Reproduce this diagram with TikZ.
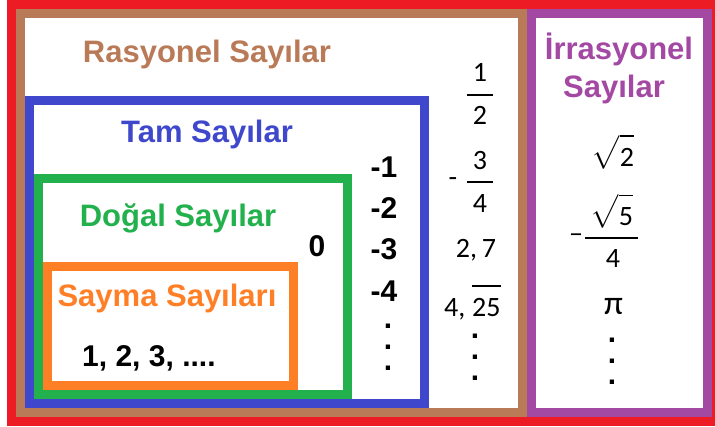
\documentclass[tikz,border=0pt]{standalone}
\usepackage{fontspec}
\usepackage{unicode-math}
\setmainfont{Liberation Sans}
\newfontfamily\numfont{Carlito}
\definecolor{cred}{HTML}{ED1C24}
\definecolor{cbrown}{HTML}{B97A57}
\definecolor{cblue}{HTML}{3F48CC}
\definecolor{cgreen}{HTML}{22B14C}
\definecolor{corange}{HTML}{FF7F27}
\definecolor{cpurple}{HTML}{A349A4}
\begin{document}
\begin{tikzpicture}[x=1pt,y=-1pt,
  frame/.style={line width=9pt},
  head/.style={font=\fontsize{31}{36}\selectfont\bfseries, inner sep=0pt, anchor=base},
  bnum/.style={font=\fontsize{30}{36}\selectfont\bfseries, inner sep=0pt, anchor=base},
  fnum/.style={font=\numfont\fontsize{28}{32}\selectfont, inner sep=0pt, anchor=base},
  dotcol/.style={font=\fontsize{30}{21}\selectfont\bfseries, inner sep=0pt, anchor=center, align=center},
  fbar/.style={line width=1.8pt}]
\useasboundingbox (0,0) rectangle (715,427);
\clip (0,0) rectangle (715,427);
% frames
\draw[frame, cred] (11.5,4.5) rectangle (716.5,421.5);
\draw[frame, cbrown] (20.5,13.5) rectangle (522.5,412.5);
\draw[frame, cpurple] (531.5,13.5) rectangle (707.5,412.5);
\draw[frame, cblue] (29.5,100.5) rectangle (424.5,403.5);
\draw[frame, cgreen] (38.5,178.5) rectangle (347.5,394.5);
\draw[frame, corange] (47.5,266.5) rectangle (293.5,385.5);
% headings
\node[head, text=cbrown] (rat) at (207,63) {Rasyonel Sayılar};
\node[head, text=cblue] (tam) at (207,143) {Tam Sayılar};
\node[head, text=cgreen] (dog) at (178,227) {Doğal Sayılar};
\node[head, text=corange] (say) at (167,307) {Sayma Sayıları};
\node[head, text=cpurple] (irr1) at (619,60) {İrrasyonel};
\node[head, text=cpurple] (irr2) at (614,98) {Sayılar};
% natural / integers
\node[bnum] (zero) at (317,257) {0};
\node[bnum, anchor=base west] (cnt) at (82,367) {1, 2, 3, ....};
\node[bnum] (m1) at (384,178) {-1};
\node[bnum] (m2) at (384,219) {-2};
\node[bnum] (m3) at (384,260) {-3};
\node[bnum] (m4) at (384,302) {-4};
\node[dotcol] (idots) at (388,347.5) {.\\.\\.};
% rationals
\node[fnum] (h1) at (480,82) {1};
\node[fnum] (h2) at (480,125) {2};
\draw[fbar] (467,95) -- (493,95);
\node[fnum] (t3) at (480,170) {3};
\node[fnum] (t4) at (480,213) {4};
\draw[fbar] (467,182) -- (493,182);
\node[fnum, anchor=center] (tm) at (453,182) {-};
\node[fnum] (d27) at (476,258) {2,\,7};
\node[fnum, anchor=base west] (d4) at (444,317) {4,};
\node[fnum, anchor=base west] (d25) at (472,317) {25};
\draw[fbar] ([yshift=13pt]d25.north west) -- ([yshift=13pt]d25.north east);
\node[dotcol] (rdots) at (475,357) {.\\.\\.};
% irrationals
\node[fnum] (s2) at (613,167) {$\sqrt{\mbox{\rule{0pt}{27pt}2}}$};
\node[fnum] (s5) at (612,226) {$\sqrt{\mbox{\rule{0pt}{26pt}5}}$};
\draw[fbar] (585,238) -- (638,238);
\node[fnum] (s4) at (613,268) {4};
\node[fnum, anchor=center] (sm) at (576,238) {–};
\node[fnum, font=\numfont\fontsize{34}{36}\selectfont] (pi) at (613.5,315) {π};
\node[dotcol] (qdots) at (612,361) {.\\.\\.};
\end{tikzpicture}
\end{document}
